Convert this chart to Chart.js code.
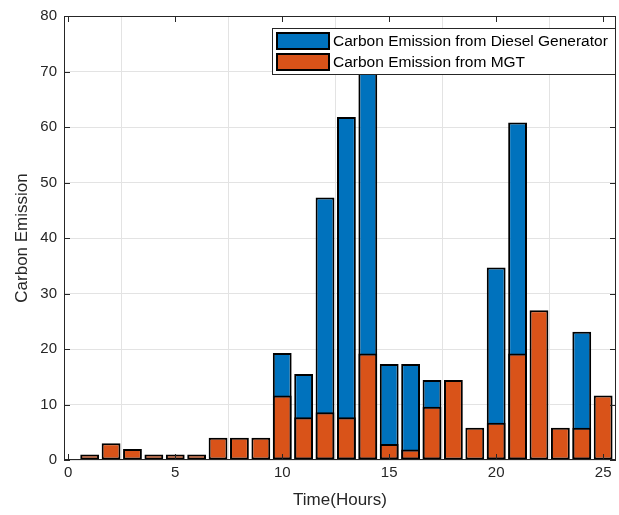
<!DOCTYPE html>
<html>
<head>
<meta charset="utf-8">
<script src="https://cdn.jsdelivr.net/npm/chart.js@4/dist/chart.umd.min.js"></script>
<style>
  html, body { margin: 0; padding: 0; background: #fff; }
  #wrap { width: 619px; height: 515px; }
</style>
</head>
<body>
<div id="wrap"><canvas id="emissionChart" width="619" height="515"></canvas></div>
<script>
// hours 1..25
const hours = [1, 2, 3, 4, 5, 6, 7, 8, 9, 10, 11, 12, 13, 14, 15, 16, 17, 18, 19, 20, 21, 22, 23, 24, 25];
// diesel generator (blue, drawn behind)
const dieselEmission = [0, 0, 0, 0, 0, 0, 0, 0, 0, 19.3, 15.5, 47.3, 61.8, 72, 17.3, 17.3, 14.4, 0, 0, 34.7, 60.8, 0, 0, 23.1, 0];
// MGT (orange, drawn in front)
const mgtEmission = [1, 3, 2, 1, 1, 1, 4, 4, 4, 11.6, 7.7, 8.6, 7.7, 19.2, 2.9, 1.9, 9.6, 14.4, 5.8, 6.7, 19.2, 27, 5.8, 5.8, 11.6];
const xTicks = [0, 5, 10, 15, 20, 25];
const yTicks = [0, 10, 20, 30, 40, 50, 60, 70, 80];
const legendLabels = ["Carbon Emission from Diesel Generator", "Carbon Emission from MGT"];

const BLUE = "#0072BD";
const ORANGE = "#D95319";
const AXIS = "#262626";
const FONT = "'Liberation Sans', Arial, sans-serif";

// MATLAB style box with inward ticks
const boxPlugin = {
    id: "box",
    afterDraw(chart) {
        const { ctx, chartArea: a, scales } = chart;
        ctx.save();
        ctx.strokeStyle = AXIS;
        ctx.lineWidth = 1;
        ctx.strokeRect(a.left + 0.5, a.top + 0.5, a.right - a.left - 1, a.bottom - a.top - 1);
        ctx.beginPath();
        xTicks.forEach(v => {
            const x = Math.round(scales.x.getPixelForValue(v)) + 0.5;
            ctx.moveTo(x, a.bottom); ctx.lineTo(x, a.bottom - 6);
            ctx.moveTo(x, a.top); ctx.lineTo(x, a.top + 6);
        });
        yTicks.forEach(v => {
            const y = Math.round(scales.y.getPixelForValue(v)) + 0.5;
            ctx.moveTo(a.left, y); ctx.lineTo(a.left + 6, y);
            ctx.moveTo(a.right, y); ctx.lineTo(a.right - 6, y);
        });
        ctx.stroke();

        // legend inside the axes, top right
        const lx = 272, ly = 28, lw = 343, lh = 46;
        ctx.fillStyle = "#fff";
        ctx.fillRect(lx, ly, lw, lh);
        ctx.strokeStyle = AXIS;
        ctx.strokeRect(lx + 0.5, ly + 0.5, lw, lh);
        const colors = [BLUE, ORANGE];
        ctx.font = "15.5px " + FONT;
        ctx.textBaseline = "middle";
        legendLabels.forEach((t, i) => {
            const sy = ly + 5 + i * 21;
            ctx.fillStyle = colors[i];
            ctx.fillRect(lx + 5, sy, 52, 16);
            ctx.lineWidth = 2;
            ctx.strokeStyle = "#000";
            ctx.strokeRect(lx + 5, sy, 52, 16);
            ctx.fillStyle = "#000";
            ctx.fillText(t, lx + 61, sy + 9);
        });
        ctx.restore();
    }
};

new Chart(document.getElementById("emissionChart"), {
    type: "bar",
    data: {
        labels: hours,
        datasets: [
            {
                label: legendLabels[0],
                data: hours.map((h, i) => ({ x: h, y: dieselEmission[i] })),
                backgroundColor: BLUE,
                borderColor: "#000",
                borderWidth: 2,
                borderSkipped: false,
                order: 2
            },
            {
                label: legendLabels[1],
                data: hours.map((h, i) => ({ x: h, y: mgtEmission[i] })),
                backgroundColor: ORANGE,
                borderColor: "#000",
                borderWidth: 2,
                borderSkipped: false,
                order: 1
            }
        ]
    },
    options: {
        responsive: false,
        animation: false,
        layout: { padding: { top: 13, right: 3, left: 0, bottom: 0 } },
        datasets: { bar: { categoryPercentage: 1, barPercentage: 0.88 } },
        plugins: { legend: { display: false }, tooltip: { enabled: false } },
        scales: {
            x: {
                type: "linear",
                stacked: true,
                offset: false,
                min: -0.2,
                max: 25.6,
                afterFit: s => { s.height = 55; },
                afterBuildTicks: s => { s.ticks = xTicks.map(v => ({ value: v })); },
                ticks: { font: { size: 15, family: FONT }, color: AXIS, padding: 4, maxRotation: 0 },
                grid: { color: "#e3e3e3", drawTicks: false },
                border: { display: false },
                title: { display: true, text: "Time(Hours)", font: { size: 17, family: FONT }, color: AXIS, padding: { top: 8 } }
            },
            y: {
                stacked: false,
                min: 0,
                max: 80,
                afterFit: s => { s.width = 64; },
                afterBuildTicks: s => { s.ticks = yTicks.map(v => ({ value: v })); },
                ticks: { font: { size: 15, family: FONT }, color: AXIS, padding: 7 },
                grid: { color: "#e3e3e3", drawTicks: false },
                border: { display: false },
                title: { display: true, text: "Carbon Emission", font: { size: 17, family: FONT }, color: AXIS, padding: { top: 12, bottom: 4 } }
            }
        }
    },
    plugins: [boxPlugin]
});
</script>
</body>
</html>
